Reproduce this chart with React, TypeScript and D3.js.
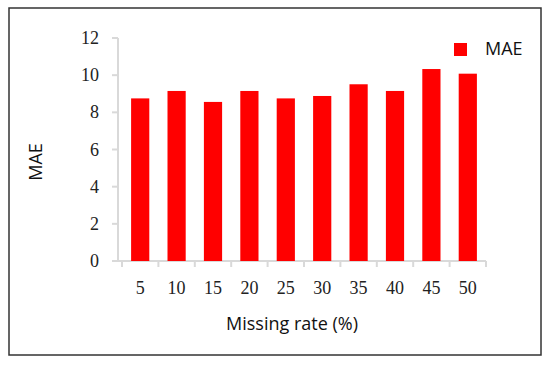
import React, { useRef, useEffect } from "react";
import * as d3 from "d3";

// chart values
const categories: string[] = ["5", "10", "15", "20", "25", "30", "35", "40", "45", "50"];
const maeValues: number[] = [8.75, 9.15, 8.56, 9.15, 8.75, 8.88, 9.51, 9.15, 10.33, 10.08];
const yTicks: number[] = [0, 2, 4, 6, 8, 10, 12];
const seriesName = "MAE";
const xTitle = "Missing rate (%)";
const yTitle = "MAE";

const width = 550;
const height = 366;
const margin = { top: 38, right: 64, bottom: 105, left: 122 };

function App() {
  const svgRef = useRef<SVGSVGElement>(null);

  useEffect(() => {
    const svg = d3.select(svgRef.current);
    svg.selectAll("*").remove();

    const serif = "'Liberation Serif', 'Times New Roman', serif";
    const sans = "'Open Sans', 'Liberation Sans', sans-serif";
    const axisColor = "#d9d9d9";
    const red = "#ff0000";

    // outer frame
    svg
      .append("rect")
      .attr("x", 9)
      .attr("y", 8)
      .attr("width", 532)
      .attr("height", 347)
      .attr("fill", "white")
      .attr("stroke", "#333")
      .attr("stroke-width", 1.5);

    const x = d3
      .scaleBand<string>()
      .domain(categories)
      .range([margin.left, width - margin.right])
      .paddingInner(0.5)
      .paddingOuter(0.25);

    const y = d3
      .scaleLinear()
      .domain([0, 12])
      .range([height - margin.bottom, margin.top]);

    const y0 = y(0);
    const step = x.step();

    // y axis line + ticks
    svg
      .append("line")
      .attr("x1", 118)
      .attr("x2", 118)
      .attr("y1", y(12))
      .attr("y2", y0)
      .attr("stroke", axisColor)
      .attr("stroke-width", 2);

    yTicks.forEach((t) => {
      svg
        .append("line")
        .attr("x1", 112)
        .attr("x2", 118)
        .attr("y1", y(t))
        .attr("y2", y(t))
        .attr("stroke", axisColor)
        .attr("stroke-width", 2);
      svg
        .append("text")
        .attr("x", 99)
        .attr("y", y(t))
        .attr("text-anchor", "end")
        .attr("dominant-baseline", "central")
        .attr("font-family", serif)
        .attr("font-size", 18)
        .attr("fill", "#222")
        .text(t);
    });

    // x axis line + boundary ticks
    svg
      .append("line")
      .attr("x1", 116)
      .attr("x2", width - margin.right)
      .attr("y1", y0)
      .attr("y2", y0)
      .attr("stroke", axisColor)
      .attr("stroke-width", 2);

    for (let i = 0; i <= categories.length; i++) {
      const bx = margin.left + i * step;
      svg
        .append("line")
        .attr("x1", bx)
        .attr("x2", bx)
        .attr("y1", y0)
        .attr("y2", y0 + 6)
        .attr("stroke", axisColor)
        .attr("stroke-width", 2);
    }

    // bars
    svg
      .selectAll(".bar")
      .data(maeValues)
      .enter()
      .append("rect")
      .attr("class", "bar")
      .attr("x", (d, i) => x(categories[i]) as number)
      .attr("y", (d) => y(d))
      .attr("width", x.bandwidth())
      .attr("height", (d) => y0 - y(d))
      .attr("fill", red);

    // x tick labels
    categories.forEach((c) => {
      svg
        .append("text")
        .attr("x", (x(c) as number) + x.bandwidth() / 2)
        .attr("y", 288)
        .attr("text-anchor", "middle")
        .attr("dominant-baseline", "central")
        .attr("font-family", serif)
        .attr("font-size", 18)
        .attr("fill", "#222")
        .text(c);
    });

    // axis titles
    svg
      .append("text")
      .attr("x", 292)
      .attr("y", 323)
      .attr("text-anchor", "middle")
      .attr("dominant-baseline", "central")
      .attr("font-family", sans)
      .attr("font-size", 18)
      .attr("fill", "#111")
      .text(xTitle);

    svg
      .append("text")
      .attr("transform", "translate(35,162) rotate(-90)")
      .attr("text-anchor", "middle")
      .attr("dominant-baseline", "central")
      .attr("font-family", sans)
      .attr("font-size", 18)
      .attr("fill", "#111")
      .text(yTitle);

    // legend
    svg
      .append("rect")
      .attr("x", 454)
      .attr("y", 43)
      .attr("width", 13)
      .attr("height", 13)
      .attr("fill", red);
    svg
      .append("text")
      .attr("x", 485)
      .attr("y", 48)
      .attr("dominant-baseline", "central")
      .attr("font-family", sans)
      .attr("font-size", 18)
      .attr("fill", "#111")
      .text(seriesName);
  }, []);

  return (
    <div style={{ position: "absolute", left: 0, top: 0 }}>
      <svg ref={svgRef} width={width} height={height} style={{ display: "block" }} />
    </div>
  );
}

export default App;
